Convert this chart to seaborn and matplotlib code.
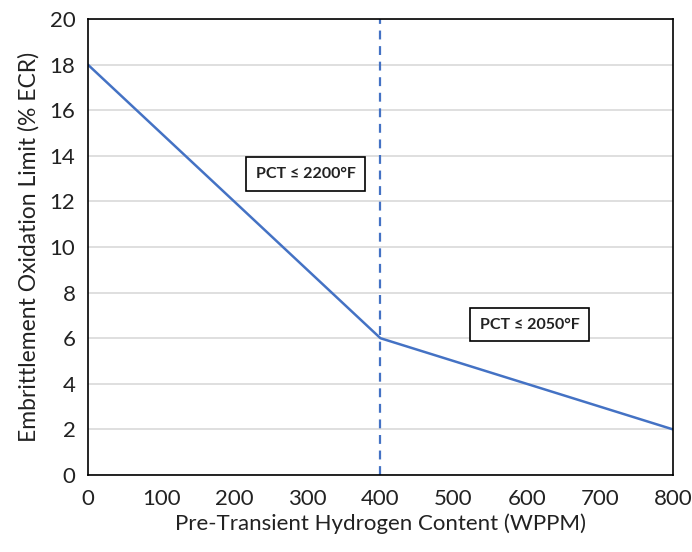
import matplotlib
matplotlib.use("Agg")
import matplotlib.pyplot as plt
import seaborn as sns
import pandas as pd

hydrogen_wppm = [0, 400, 800]
ecr_limit = [18, 6, 2]
boundary_wppm = 400
x_ticks = [0, 100, 200, 300, 400, 500, 600, 700, 800]
y_ticks = [0, 2, 4, 6, 8, 10, 12, 14, 16, 18, 20]
region_labels = ["PCT \u2264 2200\u00b0F", "PCT \u2264 2050\u00b0F"]
label_pos = [(298, 13.2), (604, 6.6)]

sns.set_style("white")
plt.rcParams["font.family"] = ["Lato", "DejaVu Sans"]

df = pd.DataFrame({"wppm": hydrogen_wppm, "ecr": ecr_limit})

fig = plt.figure(figsize=(6.92, 5.52), dpi=100)
ax = fig.add_axes([0.127, 0.1395, 0.8455, 0.826])

ax.grid(axis="y", color="#d9d9d9", linewidth=1.2)
ax.set_axisbelow(True)
sns.lineplot(data=df, x="wppm", y="ecr", ax=ax, color="#4472c4", linewidth=1.8)
ax.axvline(boundary_wppm, color="#4472c4", linestyle=(0, (4, 3)), linewidth=1.6)

for (xp, yp), txt in zip(label_pos, region_labels):
    ax.text(xp, yp, txt, ha="center", va="center", fontsize=11.5, fontweight="bold",
            color="#222222",
            bbox=dict(boxstyle="square,pad=0.6", facecolor="white", edgecolor="black", linewidth=1.2))

ax.set_xlim(0, 800)
ax.set_ylim(0, 20)
ax.set_xticks(x_ticks)
ax.set_yticks(y_ticks)
ax.tick_params(axis="x", labelsize=16, colors="#222222", length=6, color="#d9d9d9", width=1.2, pad=4)
ax.tick_params(axis="y", labelsize=16, colors="#222222", length=6, color="#d9d9d9", width=1.2, pad=3)
for side in ax.spines.values():
    side.set_color("black")
    side.set_linewidth(1.2)

ax.set_xlabel("Pre-Transient Hydrogen Content (WPPM)", fontsize=16, color="#222222", labelpad=3)
ax.set_ylabel("Embrittlement Oxidation Limit (% ECR)", fontsize=16.5, color="#222222", labelpad=7)

fig.savefig("out.png", dpi=100)
